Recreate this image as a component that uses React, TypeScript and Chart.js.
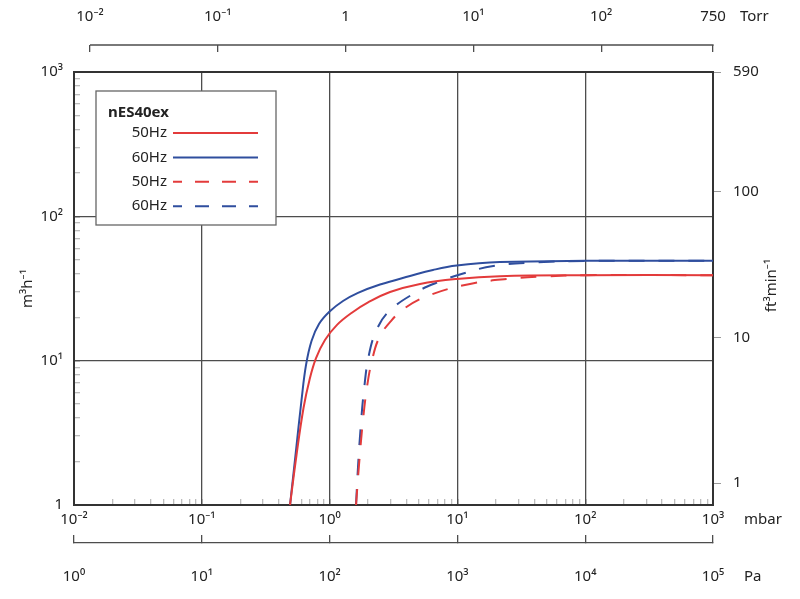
import React, { useEffect, useRef } from 'react';
import { Chart, registerables } from 'chart.js';

Chart.register(...registerables);

const FONT = '"Noto Sans", "DejaVu Sans", sans-serif';
const TEXT = '#222222';
const GRID = '#4d4d4d';
const FRAME = '#333333';
const MINOR = '#bdbdbd';
const RED = '#e33b3b';
const BLUE = '#2f4e9e';

// ---- data (pressure in mbar, flow in m³/h) ----
const P_50HZ = [0.49, 0.551, 0.625, 0.696, 0.783, 0.92, 1.143, 1.484, 2.0, 2.97, 5.1, 9.87, 21.5, 100, 1000];
const Q_50HZ = [1, 2.22, 4.7, 7.35, 10.4, 13.9, 17.7, 21.4, 25.3, 29.9, 34.0, 36.8, 38.5, 39.1, 39.1];
const P_60HZ = [0.49, 0.541, 0.603, 0.654, 0.722, 0.826, 1.0, 1.273, 1.668, 2.48, 4.26, 6.44, 9.87, 21.5, 100, 1000];
const Q_60HZ = [1, 2.22, 5.34, 9.34, 13.7, 17.96, 21.9, 25.9, 29.5, 33.7, 38.6, 42.5, 45.6, 48.2, 49.2, 49.2];
const P_50HZ_D = [1.61, 1.698, 1.809, 1.962, 2.15, 2.44, 2.97, 3.89, 6.29, 12.55, 24.3, 47.0, 100, 1000];
const Q_50HZ_D = [1, 1.89, 3.58, 6.57, 10.1, 14.4, 18.5, 23.2, 28.8, 34.0, 36.8, 38.3, 39.1, 39.1];
const P_60HZ_D = [1.61, 1.668, 1.751, 1.858, 2.03, 2.33, 2.89, 4.66, 7.31, 11.1, 19.1, 39.3, 100, 1000];
const Q_60HZ_D = [1, 1.83, 3.47, 6.27, 10.95, 16.3, 21.8, 29.5, 35.4, 40.2, 45.3, 47.9, 49.1, 49.2];

const LEGEND_TITLE = 'nES40ex';
const SERIES_LABELS = ['50Hz', '60Hz', '50Hz', '60Hz'];

// ---- axes ----
const MBAR_TICKS = [0.01, 0.1, 1, 10, 100, 1000];
const MBAR_LABELS = ['10⁻²', '10⁻¹', '10⁰', '10¹', '10²', '10³'];
const TORR_TICKS = [0.01, 0.1, 1, 10, 100, 750];
const TORR_LABELS = ['10⁻²', '10⁻¹', '1', '10¹', '10²', '750'];
const PA_TICKS = [1, 10, 100, 1000, 10000, 100000];
const PA_LABELS = ['10⁰', '10¹', '10²', '10³', '10⁴', '10⁵'];
const FLOW_TICKS = [1, 10, 100, 1000];
const FLOW_LABELS = ['1', '10¹', '10²', '10³'];
// right-hand scale as printed in the reference, placed on the m³/h scale
const CFM_TICK_POS = [1.42, 14.4, 147.6, 1000];
const CFM_LABELS = ['1', '10', '100', '590'];
const MBAR_PER_TORR = 1.33322;
const Y_TITLE = 'm³h⁻¹';
const Y2_TITLE = 'ft³min⁻¹';
const UNIT_TORR = 'Torr';
const UNIT_MBAR = 'mbar';
const UNIT_PA = 'Pa';

const isPow10 = (v: number) => Math.abs(Math.log10(v) - Math.round(Math.log10(v))) < 1e-6;
const decadeTicks = (lo: number, hi: number) => {
  const out: number[] = [];
  for (let e = lo; e < hi; e++) for (let m = 1; m < 10; m++) out.push(Number((m * Math.pow(10, e)).toPrecision(6)));
  out.push(Math.pow(10, hi));
  return out;
};
const labelFor = (ticks: number[], labels: string[], v: number) => {
  const i = ticks.findIndex((t) => Math.abs(Math.log10(t) - Math.log10(v)) < 1e-4);
  return i >= 0 ? labels[i] : '';
};
const setTicks = (vals: number[]) => (scale: any) => {
  scale.ticks = vals.map((v) => ({ value: v, major: isPow10(v) }));
};
const tickFont = { family: FONT, size: 15 };

const extrasPlugin = {
  id: 'extras',
  afterDraw(chart: any) {
    const { ctx, chartArea, scales } = chart;
    const torr = scales.xTorr;
    ctx.save();
    // Torr bracket line
    ctx.strokeStyle = GRID;
    ctx.lineWidth = 1.3;
    ctx.beginPath();
    const tx0 = torr.getPixelForValue(TORR_TICKS[0]);
    const tx1 = torr.getPixelForValue(TORR_TICKS[TORR_TICKS.length - 1]);
    ctx.moveTo(tx0, torr.bottom);
    ctx.lineTo(tx1 + 0.65, torr.bottom);
    ctx.stroke();

    // unit labels
    ctx.fillStyle = TEXT;
    ctx.font = `15px ${FONT}`;
    ctx.textAlign = 'left';
    ctx.textBaseline = 'middle';
    ctx.fillText(UNIT_TORR, chartArea.right + 27, torr.bottom + 7 - 26 - 9);
    ctx.fillText(UNIT_MBAR, chartArea.right + 31, scales.x.top - 6 + 12 + 9);
    ctx.fillText(UNIT_PA, chartArea.right + 31, scales.xPa.top - 8 + 33 + 9);

    // right axis title (reads bottom-to-top)
    ctx.translate(chartArea.right + 59, (chartArea.top + chartArea.bottom) / 2 - 3);
    ctx.rotate(-Math.PI / 2);
    ctx.textAlign = 'center';
    ctx.fillText(Y2_TITLE, 0, 0);
    ctx.restore();

    // legend box
    const bx = chartArea.left + 22;
    const by = chartArea.top + 19;
    const bw = 180;
    const bh = 134;
    ctx.save();
    ctx.fillStyle = '#ffffff';
    ctx.fillRect(bx, by, bw, bh);
    ctx.strokeStyle = '#666666';
    ctx.lineWidth = 1.3;
    ctx.strokeRect(bx, by, bw, bh);
    ctx.fillStyle = TEXT;
    ctx.font = `bold 15px ${FONT}`;
    ctx.textAlign = 'left';
    ctx.textBaseline = 'middle';
    ctx.fillText(LEGEND_TITLE, bx + 12, by + 22);
    chart.data.datasets.forEach((ds: any, i: number) => {
      const y = by + 42 + 24.4 * i;
      ctx.font = `15px ${FONT}`;
      ctx.textAlign = 'right';
      ctx.fillStyle = TEXT;
      ctx.fillText(SERIES_LABELS[i], bx + 71, y);
      ctx.strokeStyle = ds.borderColor;
      ctx.lineWidth = 2;
      const dashed = ds.borderDash && ds.borderDash.length;
      ctx.setLineDash(dashed ? [14, 13] : []);
      ctx.lineDashOffset = dashed ? 5 : 0;
      ctx.beginPath();
      ctx.moveTo(bx + 77, y);
      ctx.lineTo(bx + 162, y);
      ctx.stroke();
    });
    ctx.restore();
  },
};

const mk = (xs: number[], ys: number[]) => xs.map((x, i) => ({ x, y: ys[i] }));

export default function App() {
  const ref = useRef<HTMLCanvasElement>(null);
  useEffect(() => {
    if (!ref.current) return;
    const line = {
      borderWidth: 2,
      pointRadius: 0,
      fill: false,
      tension: 0.4,
      xAxisID: 'x',
      yAxisID: 'y',
    };
    const chart = new Chart(ref.current, {
      type: 'line',
      data: {
        datasets: [
          { ...line, label: SERIES_LABELS[0], data: mk(P_50HZ, Q_50HZ), borderColor: RED, borderDash: [] },
          { ...line, label: SERIES_LABELS[1], data: mk(P_60HZ, Q_60HZ), borderColor: BLUE, borderDash: [] },
          { ...line, label: SERIES_LABELS[2], data: mk(P_50HZ_D, Q_50HZ_D), borderColor: RED, borderDash: [16, 14] },
          { ...line, label: SERIES_LABELS[3], data: mk(P_60HZ_D, Q_60HZ_D), borderColor: BLUE, borderDash: [16, 14] },
        ],
      },
      options: {
        responsive: false,
        animation: false,
        layout: { padding: 0 },
        plugins: { legend: { display: false }, tooltip: { enabled: false } },
        scales: {
          x: {
            type: 'logarithmic',
            position: 'bottom',
            weight: 0,
            min: 0.01,
            max: 1000,
            afterBuildTicks: setTicks(decadeTicks(-2, 3)),
            afterFit: (s: any) => { s.height = 38; },
            ticks: {
              autoSkip: false,
              maxRotation: 0,
              padding: 12,
              color: TEXT,
              font: tickFont,
              callback: (v: any) => (isPow10(Number(v)) ? labelFor(MBAR_TICKS, MBAR_LABELS, Number(v)) : ''),
            },
            grid: {
              drawOnChartArea: true,
              drawTicks: true,
              tickLength: -6,
              lineWidth: 1.3,
              color: (c: any) => (c.tick && isPow10(c.tick.value) ? GRID : 'rgba(0,0,0,0)'),
              tickColor: (c: any) => (c.tick && isPow10(c.tick.value) ? GRID : MINOR),
            },
            border: { display: true, color: FRAME, width: 2 },
          },
          xPa: {
            type: 'logarithmic',
            position: 'bottom',
            weight: 1,
            min: PA_TICKS[0],
            max: PA_TICKS[PA_TICKS.length - 1],
            afterBuildTicks: setTicks(PA_TICKS),
            afterFit: (s: any) => { s.height = 56; },
            ticks: {
              autoSkip: false,
              maxRotation: 0,
              padding: 33,
              color: TEXT,
              font: tickFont,
              callback: (v: any) => labelFor(PA_TICKS, PA_LABELS, Number(v)),
            },
            grid: { drawOnChartArea: false, drawTicks: true, tickLength: -8, lineWidth: 1.3, color: GRID, tickColor: GRID },
            border: { display: true, color: GRID, width: 1.3 },
          },
          xTop: {
            type: 'logarithmic',
            position: 'top',
            weight: 0,
            min: 0.01,
            max: 1000,
            afterFit: (s: any) => { s.height = 27; },
            ticks: { display: false },
            grid: { drawOnChartArea: false, drawTicks: false, color: 'rgba(0,0,0,0)' },
            border: { display: true, color: FRAME, width: 2 },
          },
          xTorr: {
            type: 'logarithmic',
            position: 'top',
            weight: 1,
            min: 0.01 / MBAR_PER_TORR,
            max: 1000 / MBAR_PER_TORR,
            afterBuildTicks: setTicks(TORR_TICKS),
            afterFit: (s: any) => { s.height = 45; },
            ticks: {
              autoSkip: false,
              maxRotation: 0,
              padding: 26,
              color: TEXT,
              font: tickFont,
              callback: (v: any) => labelFor(TORR_TICKS, TORR_LABELS, Number(v)),
            },
            grid: { drawOnChartArea: false, drawTicks: true, tickLength: -7, lineWidth: 1.3, color: GRID, tickColor: GRID },
            border: { display: false },
          },
          y: {
            type: 'logarithmic',
            position: 'left',
            min: 1,
            max: 1000,
            afterBuildTicks: setTicks(decadeTicks(0, 3)),
            afterFit: (s: any) => { s.width = 74; },
            ticks: {
              autoSkip: false,
              padding: 17,
              color: TEXT,
              font: tickFont,
              callback: (v: any) => (isPow10(Number(v)) ? labelFor(FLOW_TICKS, FLOW_LABELS, Number(v)) : ''),
            },
            title: { display: true, text: Y_TITLE, color: TEXT, font: tickFont, padding: { top: 19, bottom: 0 } },
            grid: {
              drawOnChartArea: true,
              drawTicks: true,
              tickLength: -6,
              lineWidth: 1.3,
              color: (c: any) => (c.tick && isPow10(c.tick.value) ? GRID : 'rgba(0,0,0,0)'),
              tickColor: (c: any) => (c.tick && isPow10(c.tick.value) ? GRID : MINOR),
            },
            border: { display: true, color: FRAME, width: 2 },
          },
          y2: {
            type: 'logarithmic',
            position: 'right',
            min: 1,
            max: 1000,
            afterBuildTicks: setTicks(CFM_TICK_POS),
            afterFit: (s: any) => { s.width = 87; },
            ticks: {
              autoSkip: false,
              padding: 12,
              color: TEXT,
              font: tickFont,
              callback: (v: any, i: number) => CFM_LABELS[i] ?? '',
            },
            grid: { drawOnChartArea: false, drawTicks: true, tickLength: 8, lineWidth: 1, color: MINOR, tickColor: '#9a9a9a' },
            border: { display: true, color: FRAME, width: 2 },
          },
        },
      } as any,
      plugins: [extrasPlugin],
    });
    return () => chart.destroy();
  }, []);
  return (
    <div style={{ position: 'fixed', left: 0, top: 0, width: 800, height: 599, background: '#fff' }}>
      <canvas ref={ref} width={800} height={599} style={{ width: 800, height: 599, display: 'block' }} />
    </div>
  );
}
